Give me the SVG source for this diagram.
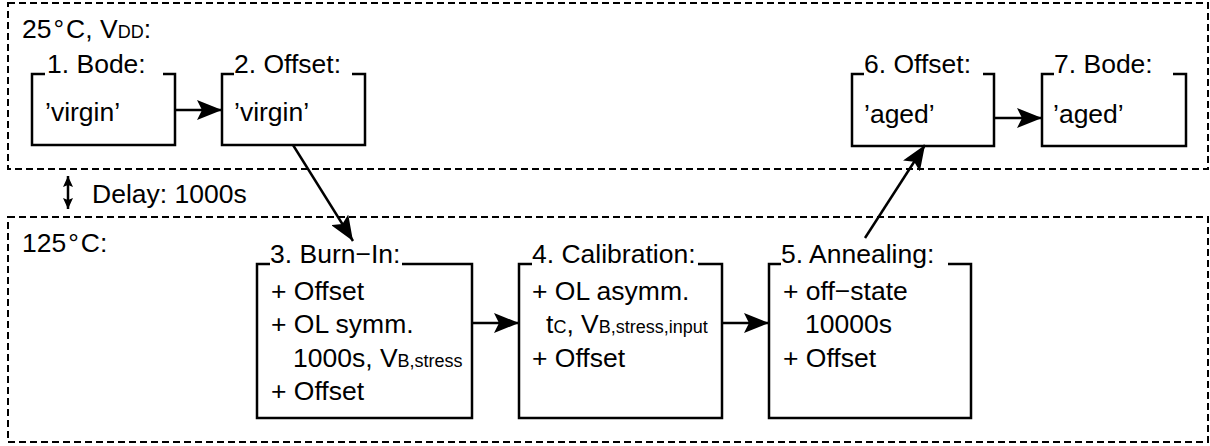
<svg xmlns="http://www.w3.org/2000/svg" width="1210" height="446" viewBox="0 0 1210 446">
  <style>
    text { font-family: "Liberation Sans", Arial, Helvetica, sans-serif; font-size: 26.5px; fill: #000; }
    .sub { font-size: 18px; }
    .zone { fill: none; stroke: #000; stroke-width: 2; stroke-dasharray: 7 4; }
    .box { fill: none; stroke: #000; stroke-width: 2.5; }
    .conn { fill: none; stroke: #000; stroke-width: 2.5; }
  </style>
  <defs>
    <marker id="arrow" markerUnits="userSpaceOnUse" viewBox="0 0 25 20" refX="25" refY="10" markerWidth="25" markerHeight="20" orient="auto">
      <path d="M0,0 L25,10 L0,20 L5,10 z" fill="#000"/>
    </marker>
    <marker id="tick" markerUnits="userSpaceOnUse" viewBox="0 0 11 10" refX="11" refY="5" markerWidth="11" markerHeight="10" orient="auto-start-reverse">
      <path d="M0,0 L11,5 L0,10 L2,5 z" fill="#000"/>
    </marker>
  </defs>

  <!-- temperature zones -->
  <g id="zone-25C">
    <rect class="zone" x="8" y="3" width="1200" height="166"/>
    <text x="22" y="38">25<tspan dx="2">°</tspan><tspan dx="2">C, V</tspan><tspan class="sub">DD</tspan>:</text>
  </g>
  <g id="zone-125C">
    <rect class="zone" x="8" y="217" width="1200" height="225"/>
    <text x="22" y="252">125<tspan dx="2">°</tspan><tspan dx="2">C:</tspan></text>
  </g>
  <g id="delay">
    <line class="conn" x1="68" y1="176" x2="68" y2="209" stroke-width="2" marker-start="url(#tick)" marker-end="url(#tick)"/>
    <text x="92" y="203">Delay: 1000s</text>
  </g>

  <!-- steps -->
  <g id="step1">
    <path class="box" d="M45,74 H32 V145 H175 V74 H163"/>
    <text x="47" y="73">1. Bode:</text>
    <text x="45" y="121">’virgin’</text>
  </g>
  <g id="step2">
    <path class="box" d="M234,74 H222 V145 H365 V74 H352"/>
    <text x="234" y="73">2. Offset:</text>
    <text x="234" y="121">’virgin’</text>
  </g>
  <g id="step3">
    <path class="box" d="M270,264 H257 V418 H472 V264 H402"/>
    <text x="270" y="263">3. Burn−In:</text>
    <text x="271" y="300">+ Offset</text>
    <text x="271" y="333">+ OL symm.</text>
    <text x="293" y="367">1000s, V<tspan class="sub">B,stress</tspan></text>
    <text x="271" y="400">+ Offset</text>
  </g>
  <g id="step4">
    <path class="box" d="M532,264 H519 V418 H722 V264 H698"/>
    <text x="532" y="263">4. Calibration:</text>
    <text x="532" y="300">+ OL asymm.</text>
    <text x="546" y="333">t<tspan class="sub">C</tspan>, V<tspan class="sub">B,stress,input</tspan></text>
    <text x="532" y="367">+ Offset</text>
  </g>
  <g id="step5">
    <path class="box" d="M781,264 H769 V418 H971 V264 H948"/>
    <text x="781" y="263">5. Annealing:</text>
    <text x="783" y="300">+ off−state</text>
    <text x="805" y="333">10000s</text>
    <text x="783" y="367">+ Offset</text>
  </g>
  <g id="step6">
    <path class="box" d="M864,74 H852 V146 H994 V74 H983"/>
    <text x="864" y="73">6. Offset:</text>
    <text x="864" y="123">’aged’</text>
  </g>
  <g id="step7">
    <path class="box" d="M1054,74 H1042 V146 H1186 V74 H1173"/>
    <text x="1054" y="73">7. Bode:</text>
    <text x="1053" y="123">’aged’</text>
  </g>

  <!-- connectors -->
  <g id="connectors">
    <line class="conn" x1="175" y1="110" x2="222" y2="110" marker-end="url(#arrow)"/>
    <line class="conn" x1="293" y1="145" x2="353" y2="241" marker-end="url(#arrow)"/>
    <line class="conn" x1="472" y1="323" x2="519" y2="323" marker-end="url(#arrow)"/>
    <line class="conn" x1="722" y1="323" x2="769" y2="323" marker-end="url(#arrow)"/>
    <line class="conn" x1="865" y1="238" x2="925" y2="145" marker-end="url(#arrow)"/>
    <line class="conn" x1="994" y1="118" x2="1042" y2="118" marker-end="url(#arrow)"/>
  </g>
</svg>
